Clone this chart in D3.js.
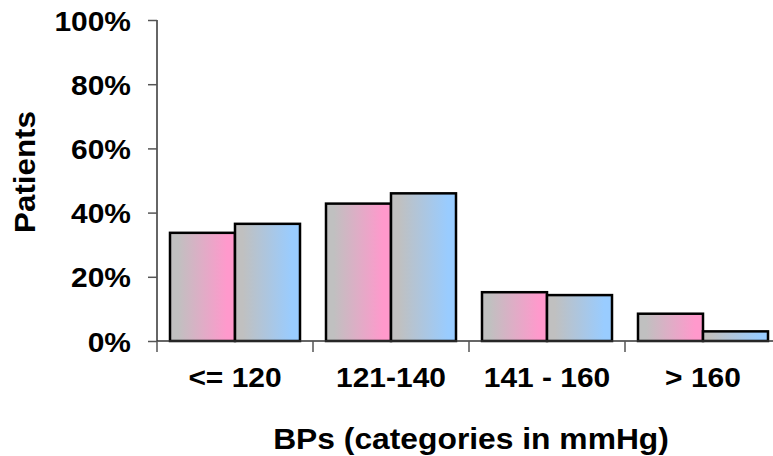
<!DOCTYPE html>
<html>
<head>
<meta charset="utf-8">
<script src="https://cdn.jsdelivr.net/npm/d3@7"></script>
<style>
  html, body { margin: 0; padding: 0; background: #fff; }
  svg { display: block; }
  text { font-family: "Liberation Sans", Arial, sans-serif; font-weight: bold; fill: #000; }
</style>
</head>
<body>
<svg id="chart" width="773" height="456"></svg>
<script>
const categories = ["<= 120", "121-140", "141 - 160", "> 160"];
const seriesNames = ["Series A", "Series B"];
const seriesA = [0.337, 0.428, 0.152, 0.085];
const seriesB = [0.365, 0.460, 0.143, 0.030];
const yTicks = [0, 0.2, 0.4, 0.6, 0.8, 1.0];
const seriesColors = ["#ff99cc", "#99ccff"];

const svg = d3.select("#chart");
const plotLeft = 157, plotTop = 20, plotBottom = 341, plotRight = 781;
const stretch = 1.07;

const x = d3.scaleBand().domain(categories).range([plotLeft, plotRight]).paddingInner(0).paddingOuter(0);
const xInner = d3.scaleBand().domain(seriesNames).range([0, x.bandwidth()]).paddingInner(0).paddingOuter(0.2);
const y = d3.scaleLinear().domain([0, 1]).range([plotBottom, plotTop]);

const defs = svg.append("defs");
seriesColors.forEach((c, i) => {
  const g = defs.append("linearGradient").attr("id", "grad" + i)
    .attr("x1", "0%").attr("x2", "100%").attr("y1", "0%").attr("y2", "0%");
  g.append("stop").attr("offset", "0%").attr("stop-color", "#c0c0c0");
  g.append("stop").attr("offset", "12%").attr("stop-color", "#c0c0c0");
  g.append("stop").attr("offset", "88%").attr("stop-color", c);
  g.append("stop").attr("offset", "100%").attr("stop-color", c);
});

// bars
const data = categories.map((c, i) => ({cat: c, vals: [seriesA[i], seriesB[i]]}));
const groups = svg.append("g").selectAll("g").data(data).join("g")
  .attr("transform", d => `translate(${x(d.cat)},0)`);
groups.selectAll("rect").data(d => d.vals.map((v, j) => ({v, s: seriesNames[j], j})))
  .join("rect")
  .attr("x", d => xInner(d.s))
  .attr("y", d => y(d.v))
  .attr("width", xInner.bandwidth())
  .attr("height", d => y(0) - y(d.v))
  .attr("fill", d => `url(#grad${d.j})`)
  .attr("stroke", "#000")
  .attr("stroke-width", 2.5);

// y axis
const yAxis = d3.axisLeft(y).tickValues(yTicks).tickFormat(d3.format(".0%")).tickSize(9).tickPadding(17);
const gy = svg.append("g").attr("transform", `translate(${plotLeft},0)`).call(yAxis);
gy.select(".domain").attr("stroke", "#333").attr("stroke-width", 1.5).attr("d", `M0,${plotTop}V${plotBottom}`);
gy.selectAll(".tick line").attr("stroke", "#555").attr("stroke-width", 1.5);
gy.selectAll(".tick text")
  .style("font-size", "28px").style("font-family", "'Liberation Sans', Arial, sans-serif").style("font-weight", "bold")
  .attr("fill", "#000").attr("dy", "0.36em")
  .attr("transform", `translate(-26,0) scale(${stretch},1) translate(26,0)`);

// x axis
const boundaries = categories.map((c, i) => plotLeft + i * x.step());
const gx = svg.append("g").attr("transform", `translate(0,${plotBottom})`);
gx.append("line").attr("x1", plotLeft).attr("x2", 773).attr("y1", 0).attr("y2", 0).attr("stroke", "#333").attr("stroke-width", 1.5);
gx.selectAll("line.tk").data(boundaries).join("line").attr("class", "tk")
  .attr("x1", d => d).attr("x2", d => d).attr("y1", 0).attr("y2", 11)
  .attr("stroke", "#555").attr("stroke-width", 1.5);
gx.selectAll("text").data(categories).join("text")
  .attr("transform", d => `translate(${x(d) + x.bandwidth() / 2},46) scale(${stretch},1)`)
  .attr("text-anchor", "middle")
  .style("font-size", "28px")
  .text(d => d);

// axis titles
svg.append("text").attr("transform", `translate(471,449) scale(1.06,1)`).attr("text-anchor", "middle")
  .style("font-size", "30px").text("BPs (categories in mmHg)");
svg.append("text").attr("transform", "translate(35,172) rotate(-90) scale(1.08,1)").attr("text-anchor", "middle")
  .style("font-size", "29px").text("Patients");
</script>
</body>
</html>
